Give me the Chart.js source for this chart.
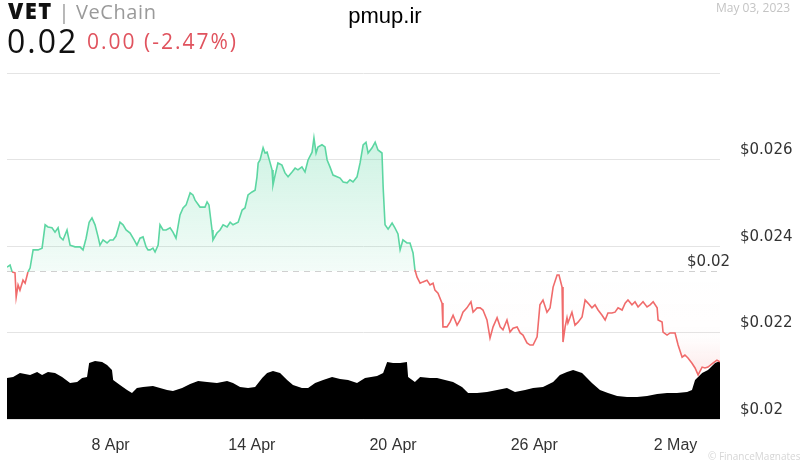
<!DOCTYPE html>
<html>
<head>
<meta charset="utf-8">
<script src="https://cdn.jsdelivr.net/npm/chart.js@4.4.0/dist/chart.umd.min.js"></script>
<style>
  html, body { margin: 0; padding: 0; background: #fff; }
  #wrap { position: relative; width: 800px; height: 460px; overflow: hidden; }
  #chart { position: absolute; left: 0; top: 0; }
  .txt { position: absolute; white-space: nowrap; line-height: 1; font-family: "Open Sans", sans-serif; }
  #sym { left: 8px; top: -1px; font-size: 22px; color: #111; }
  #sym b { font-weight: 800; letter-spacing: 1.5px; }
  #sym span { color: #9a9a9a; font-size: 20px; letter-spacing: 0.6px; }
  #last { left: 7px; top: 25px; font-size: 32px; color: #111; letter-spacing: 2px; }
  #chg { left: 87px; top: 31px; font-size: 21px; color: #e0535e; letter-spacing: 2px; }
  #site { left: 285px; width: 200px; text-align: center; top: 5px; font-size: 22px; color: #000; font-family: "Liberation Sans", Arial, sans-serif; }
  #date { right: 10px; top: 2px; font-size: 12px; color: #c4c4c4; }
  #mark { left: 708px; top: 451px; font-size: 10px; color: #d6d6d6; }
</style>
</head>
<body>
<div id="wrap">
  <canvas id="chart" width="800" height="460"></canvas>
  <div class="txt" id="sym"><b>VET</b> <span>| VeChain</span></div>
  <div class="txt" id="last">0.02</div>
  <div class="txt" id="chg">0.00 (-2.47%)</div>
  <div class="txt" id="site">pmup.ir</div>
  <div class="txt" id="date">May 03, 2023</div>
  <div class="txt" id="mark">© FinanceMagnates</div>
</div>
<script>
// day numbers: 1 = 1 Apr 2023, 31 = 1 May
const priceDays = [
  3.60, 3.73, 3.82, 3.94, 3.99, 4.07, 4.15, 4.28, 4.37, 4.49,
  4.58, 4.71, 4.92, 5.09, 5.22, 5.34, 5.51, 5.64, 5.77, 5.85,
  5.98, 6.15, 6.28, 6.49, 6.70, 6.83, 6.96, 7.09, 7.21, 7.34,
  7.47, 7.55, 7.68, 7.85, 7.98, 8.11, 8.23, 8.40, 8.53, 8.66,
  8.83, 9.00, 9.12, 9.25, 9.38, 9.51, 9.59, 9.68, 9.80, 9.89,
  10.02, 10.10, 10.23, 10.36, 10.53, 10.65, 10.78, 10.95, 11.08, 11.21,
  11.38, 11.50, 11.59, 11.80, 12.01, 12.10, 12.18, 12.31, 12.35, 12.52,
  12.65, 12.78, 12.95, 13.08, 13.20, 13.42, 13.59, 13.71, 13.84, 14.01,
  14.14, 14.22, 14.27, 14.35, 14.48, 14.56, 14.65, 14.77, 14.86, 14.90,
  14.99, 15.11, 15.28, 15.41, 15.54, 15.71, 15.84, 15.96, 16.13, 16.26,
  16.39, 16.56, 16.64, 16.73, 16.81, 16.98, 17.11, 17.20, 17.32, 17.45,
  17.62, 17.75, 17.88, 18.05, 18.17, 18.30, 18.47, 18.60, 18.73, 18.85,
  18.94, 19.11, 19.24, 19.36, 19.53, 19.58, 19.66, 19.79, 19.96, 20.08,
  20.21, 20.30, 20.42, 20.59, 20.72, 20.85, 20.93, 21.02, 21.15, 21.27,
  21.44, 21.57, 21.70, 21.78, 21.91, 22.08, 22.12, 22.29, 22.42, 22.55,
  22.72, 22.85, 22.97, 23.14, 23.31, 23.40, 23.57, 23.70, 23.82, 23.99,
  24.12, 24.25, 24.42, 24.55, 24.67, 24.84, 24.97, 25.10, 25.27, 25.40,
  25.52, 25.69, 25.82, 25.95, 26.12, 26.24, 26.37, 26.54, 26.67, 26.80,
  26.97, 27.05, 27.18, 27.22, 27.31, 27.39, 27.43, 27.60, 27.73, 27.86,
  28.03, 28.16, 28.28, 28.45, 28.58, 28.71, 28.88, 29.01, 29.13, 29.30,
  29.43, 29.56, 29.73, 29.86, 29.98, 30.15, 30.28, 30.41, 30.62, 30.79,
  30.92, 31.05, 31.22, 31.26, 31.43, 31.47, 31.64, 31.77, 31.98, 32.11,
  32.28, 32.40, 32.53, 32.70, 32.83, 32.96, 33.13, 33.25, 33.38, 33.59,
  33.76, 33.89
]
const prices = [
  0.02351, 0.02356, 0.02340, 0.02338, 0.02282, 0.02310, 0.02298, 0.02321, 0.02314, 0.02340,
  0.02349, 0.02391, 0.02391, 0.02395, 0.02449, 0.02444, 0.02442, 0.02432, 0.02442, 0.02421,
  0.02414, 0.02437, 0.02402, 0.02398, 0.02398, 0.02391, 0.02418, 0.02455, 0.02465, 0.02449,
  0.02421, 0.02402, 0.02414, 0.02407, 0.02414, 0.02414, 0.02423, 0.02455, 0.02449, 0.02437,
  0.02430, 0.02414, 0.02402, 0.02418, 0.02421, 0.02398, 0.02391, 0.02391, 0.02395, 0.02386,
  0.02402, 0.02449, 0.02437, 0.02437, 0.02442, 0.02432, 0.02418, 0.02472, 0.02488, 0.02495,
  0.02523, 0.02518, 0.02506, 0.02490, 0.02490, 0.02502, 0.02495, 0.02437, 0.02414, 0.02430,
  0.02437, 0.02449, 0.02444, 0.02455, 0.02449, 0.02455, 0.02483, 0.02488, 0.02518, 0.02525,
  0.02529, 0.02560, 0.02592, 0.02599, 0.02627, 0.02615, 0.02617, 0.02594, 0.02576, 0.02541,
  0.02564, 0.02592, 0.02587, 0.02569, 0.02560, 0.02571, 0.02580, 0.02576, 0.02583, 0.02571,
  0.02599, 0.02617, 0.02650, 0.02615, 0.02629, 0.02634, 0.02629, 0.02599, 0.02583, 0.02564,
  0.02560, 0.02557, 0.02548, 0.02546, 0.02553, 0.02548, 0.02560, 0.02592, 0.02634, 0.02640,
  0.02615, 0.02627, 0.02640, 0.02622, 0.02615, 0.02536, 0.02449, 0.02439, 0.02453, 0.02442,
  0.02428, 0.02391, 0.02414, 0.02407, 0.02407, 0.02384, 0.02345, 0.02328, 0.02314, 0.02317,
  0.02321, 0.02310, 0.02314, 0.02298, 0.02291, 0.02268, 0.02213, 0.02213, 0.02224, 0.02240,
  0.02217, 0.02229, 0.02247, 0.02257, 0.02271, 0.02247, 0.02257, 0.02257, 0.02252, 0.02229,
  0.02187, 0.02213, 0.02234, 0.02213, 0.02206, 0.02229, 0.02201, 0.02210, 0.02213, 0.02199,
  0.02194, 0.02176, 0.02171, 0.02171, 0.02190, 0.02264, 0.02275, 0.02247, 0.02257, 0.02305,
  0.02333, 0.02333, 0.02305, 0.02178, 0.02213, 0.02234, 0.02222, 0.02247, 0.02217, 0.02224,
  0.02236, 0.02275, 0.02268, 0.02257, 0.02264, 0.02252, 0.02240, 0.02229, 0.02245, 0.02245,
  0.02247, 0.02257, 0.02252, 0.02268, 0.02275, 0.02264, 0.02271, 0.02259, 0.02271, 0.02259,
  0.02264, 0.02271, 0.02257, 0.02229, 0.02224, 0.02201, 0.02194, 0.02199, 0.02199, 0.02171,
  0.02143, 0.02148, 0.02141, 0.02129, 0.02118, 0.02102, 0.02120, 0.02118, 0.02120, 0.02129,
  0.02136, 0.02132
]

const volumeDays = [
  3.60, 3.86, 4.15, 4.58, 4.88, 5.09, 5.34, 5.64, 5.94, 6.28,
  6.58, 6.79, 7.00, 7.09, 7.34, 7.64, 7.85, 8.06, 8.11, 8.40,
  8.70, 8.91, 9.12, 9.38, 9.80, 10.10, 10.40, 10.65, 11.04, 11.38,
  11.72, 12.10, 12.52, 12.95, 13.20, 13.50, 13.84, 14.14, 14.44, 14.65,
  14.90, 15.20, 15.50, 15.75, 16.13, 16.39, 16.69, 17.03, 17.41, 17.75,
  18.09, 18.47, 18.81, 19.32, 19.58, 19.75, 20.00, 20.30, 20.59, 20.64,
  20.93, 21.15, 21.57, 21.87, 22.21, 22.55, 22.93, 23.19, 23.57, 23.99,
  24.42, 24.84, 25.18, 25.61, 25.95, 26.37, 26.80, 27.09, 27.39, 27.65,
  28.03, 28.24, 28.45, 28.79, 29.13, 29.52, 29.94, 30.37, 30.79, 31.22,
  31.64, 32.06, 32.49, 32.70, 32.83, 33.13, 33.38, 33.68, 33.89
]
const volumes = [
  41, 42, 46, 44, 47, 44, 47, 46, 42, 36,
  37, 41, 42, 56, 58, 57, 54, 49, 39, 34,
  29, 26, 31, 32, 33, 31, 29, 28, 31, 35,
  38, 37, 36, 38, 36, 32, 31, 32, 41, 46,
  48, 46, 39, 34, 31, 31, 36, 39, 42, 40,
  39, 36, 41, 43, 46, 57, 56, 56, 57, 42,
  37, 42, 41, 41, 39, 37, 32, 26, 26, 27,
  29, 31, 27, 29, 31, 32, 37, 44, 47, 49,
  46, 41, 36, 29, 26, 23, 22, 22, 23, 25,
  26, 26, 27, 29, 39, 46, 49, 56, 58
]

const prevClose = 0.02342
const tickDays = [8, 14, 20, 26, 32]
const tickLabels = ['8 Apr', '14 Apr', '20 Apr', '26 Apr', '2 May']

const GREEN = '#5cd6a2'
const RED = '#f06b6b'

// one vertical gradient: green above the previous close, red fading in well below it
function fillGradient(context) {
    const chart = context.chart
    const area = chart.chartArea
    if (!area) {
        return 'rgba(92,214,162,0.2)'
    }
    const yBase = chart.scales.y.getPixelForValue(prevClose)
    const stop = Math.min(Math.max((yBase - area.top) / (area.bottom - area.top), 0), 1)
    const g = chart.ctx.createLinearGradient(0, area.top, 0, area.bottom)
    g.addColorStop(0, 'rgba(92,214,162,0.42)')
    g.addColorStop(stop, 'rgba(92,214,162,0.07)')
    g.addColorStop(stop, 'rgba(240,107,107,0)')
    g.addColorStop(stop + (1 - stop) * 0.45, 'rgba(240,107,107,0.01)')
    g.addColorStop(1, 'rgba(240,107,107,0.3)')
    return g
}

const prevClosePlugin = {
    id: 'prevClose',
    beforeDatasetsDraw(chart) {
        const {ctx, chartArea, scales} = chart
        const y = Math.round(scales.y.getPixelForValue(prevClose)) + 0.5
        ctx.save()
        ctx.strokeStyle = '#d0d0d0'
        ctx.lineWidth = 1
        ctx.setLineDash([6, 5])
        ctx.beginPath()
        ctx.moveTo(chartArea.left, y)
        ctx.lineTo(chartArea.right, y)
        ctx.stroke()
        ctx.restore()
    },
    afterDatasetsDraw(chart) {
        const {ctx, chartArea, scales} = chart
        const y = scales.y.getPixelForValue(prevClose)
        ctx.save()
        ctx.fillStyle = '#333'
        ctx.font = '15px "DejaVu Sans"'
        ctx.textAlign = 'right'
        ctx.textBaseline = 'middle'
        ctx.fillText('$' + prevClose.toFixed(2), chartArea.right + 10, y - 9)
        ctx.restore()
    }
}

new Chart(document.getElementById('chart'), {
    type: 'line',
    data: {
        datasets: [
            {
                label: 'VET',
                data: priceDays.map((d, i) => ({x: d, y: prices[i]})),
                yAxisID: 'y',
                borderColor: GREEN,
                borderWidth: 1.6,
                pointRadius: 0,
                tension: 0,
                segment: {
                    borderColor: (ctx) => ((ctx.p0.parsed.y + ctx.p1.parsed.y) / 2 < prevClose ? RED : GREEN),
                },
                backgroundColor: fillGradient,
                fill: {target: {value: prevClose}},
                order: 0,
            },
            {
                label: 'Volume',
                data: volumeDays.map((d, i) => ({x: d, y: volumes[i]})),
                yAxisID: 'yVol',
                borderWidth: 0,
                borderColor: '#000',
                backgroundColor: '#000',
                pointRadius: 0,
                tension: 0,
                fill: 'origin',
                order: 1,
            },
        ]
    },
    options: {
        responsive: false,
        animation: false,
        layout: {padding: {left: 7, top: 73, right: 0, bottom: 0}},
        plugins: {
            legend: {display: false},
            tooltip: {enabled: false},
        },
        scales: {
            x: {
                type: 'linear',
                min: priceDays[0],
                max: priceDays[priceDays.length - 1],
                afterFit: (scale) => { scale.height = 41 },
                afterBuildTicks: (scale) => { scale.ticks = tickDays.map((v) => ({value: v})) },
                grid: {display: false, drawTicks: false},
                border: {display: false},
                ticks: {
                    padding: 17,
                    color: '#333',
                    maxRotation: 0,
                    autoSkip: false,
                    font: {family: '"Liberation Sans", Arial, sans-serif', size: 16},
                    callback: (v) => tickLabels[tickDays.indexOf(v)] ?? '',
                },
            },
            y: {
                position: 'right',
                min: 0.02,
                max: 0.028,
                afterFit: (scale) => { scale.width = 80 },
                grid: {color: '#e4e4e4', drawTicks: false},
                border: {display: false},
                ticks: {
                    stepSize: 0.002,
                    padding: 20,
                    labelOffset: -9,
                    color: '#333',
                    font: {family: '"DejaVu Sans", sans-serif', size: 15},
                    callback: (v) => (v >= 0.0279 ? '' : '$' + parseFloat(v.toFixed(3))),
                },
            },
            yVol: {
                display: false,
                min: 0,
                max: 346,
            },
        },
    },
    plugins: [prevClosePlugin],
})
</script>
</body>
</html>
